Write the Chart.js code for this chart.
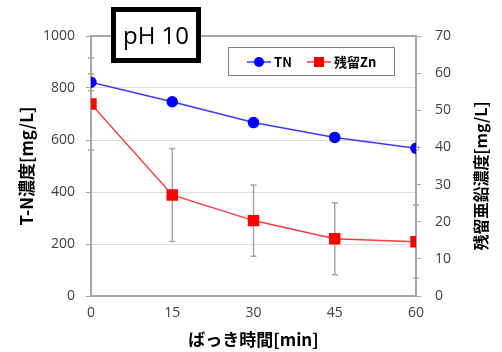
<!DOCTYPE html>
<html>
<head>
<meta charset="utf-8">
<script src="https://cdn.jsdelivr.net/npm/chart.js@4.4.1/dist/chart.umd.min.js"></script>
<style>
  body { margin: 0; background: #fff; }
  #chart { display: block; }
</style>
</head>
<body>
<canvas id="chart" width="502" height="352"></canvas>
<script>
const times = [0, 15, 30, 45, 60];
const tn = [822, 747, 667, 610, 568];
const tnErr = [33, 6, 15, 8, 5];
const zn = [51.7, 27.2, 20.3, 15.4, 14.6];
const znErr = [12.4, 12.5, 9.6, 9.7, 9.8];
const leftTicks = [0, 200, 400, 600, 800, 1000];
const rightTicks = [0, 10, 20, 30, 40, 50, 60, 70];
const xTicks = [0, 15, 30, 45, 60];

const tickFont = { family: "'Open Sans', 'Noto Sans', sans-serif", size: 14 };
const jpFont = { family: "'Noto Sans CJK JP', sans-serif", size: 17, weight: 'bold' };
const frameColor = '#a6a6a6';

const errorBars = {
  id: 'errorBars',
  beforeDatasetsDraw(chart) {
    const ctx = chart.ctx;
    const x = chart.scales.x;
    ctx.save();
    ctx.strokeStyle = '#a6a6a6';
    ctx.lineWidth = 1.5;
    chart.data.datasets.forEach(ds => {
      const y = chart.scales[ds.yAxisID];
      ds.errors.forEach((e, i) => {
        const px = x.getPixelForValue(times[i]);
        const top = y.getPixelForValue(ds.values[i] + e);
        const bot = y.getPixelForValue(ds.values[i] - e);
        ctx.beginPath();
        ctx.moveTo(px, top); ctx.lineTo(px, bot);
        ctx.moveTo(px - 3, top); ctx.lineTo(px + 3, top);
        ctx.moveTo(px - 3, bot); ctx.lineTo(px + 3, bot);
        ctx.stroke();
      });
    });
    ctx.restore();
  }
};

const frameAndLabels = {
  id: 'frameAndLabels',
  beforeDraw(chart) {
    const ctx = chart.ctx;
    ctx.save();
    ctx.fillStyle = '#fff';
    ctx.fillRect(0, 0, chart.width, chart.height);
    ctx.restore();
  },
  afterDraw(chart) {
    const ctx = chart.ctx;
    const a = chart.chartArea;
    ctx.save();
    // top frame line
    ctx.strokeStyle = frameColor;
    ctx.lineWidth = 2;
    ctx.beginPath();
    ctx.moveTo(a.left, a.top); ctx.lineTo(a.right, a.top);
    ctx.stroke();

    // right axis title, reads bottom to top like the left one
    ctx.save();
    ctx.translate(481, 176);
    ctx.rotate(-Math.PI / 2);
    ctx.fillStyle = '#000';
    ctx.font = "bold 16px 'Noto Sans CJK JP', sans-serif";
    ctx.textAlign = 'center';
    ctx.textBaseline = 'middle';
    ctx.fillText('残留亜鉛濃度[mg/L]', 0, 0);
    ctx.restore();

    // legend box
    ctx.fillStyle = '#fff';
    ctx.fillRect(228, 47, 166, 28);
    ctx.strokeStyle = '#808080';
    ctx.lineWidth = 1;
    ctx.strokeRect(228.5, 47.5, 166, 28);
    const ly = 62;
    chart.data.datasets.forEach((ds, i) => {
      const x0 = i === 0 ? 247 : 307;
      ctx.strokeStyle = ds.borderColor;
      ctx.lineWidth = 1.5;
      ctx.beginPath();
      ctx.moveTo(x0, ly); ctx.lineTo(x0 + 24, ly);
      ctx.stroke();
      ctx.fillStyle = ds.pointBackgroundColor;
      if (ds.pointStyle === 'rect') {
        ctx.fillRect(x0 + 7, ly - 5, 10, 10);
      } else {
        ctx.beginPath();
        ctx.arc(x0 + 12, ly, 5, 0, Math.PI * 2);
        ctx.fill();
      }
      ctx.fillStyle = '#000';
      ctx.font = "bold 13px 'Noto Sans CJK JP', sans-serif";
      ctx.textBaseline = 'middle';
      ctx.textAlign = 'left';
      ctx.fillText(ds.label, x0 + 27, ly);
    });

    // pH box
    ctx.fillStyle = '#fff';
    ctx.fillRect(111, 7, 90, 56);
    ctx.strokeStyle = '#000';
    ctx.lineWidth = 5;
    ctx.strokeRect(113.5, 9.5, 85, 51);
    ctx.fillStyle = '#000';
    ctx.font = "24px 'Open Sans', 'Noto Sans', sans-serif";
    ctx.textAlign = 'center';
    ctx.textBaseline = 'middle';
    ctx.fillText('pH 10', 156, 37);
    ctx.restore();
  }
};

const chart = new Chart(document.getElementById('chart'), {
  type: 'line',
  data: {
    datasets: [
      {
        label: 'TN',
        yAxisID: 'y',
        values: tn,
        errors: tnErr,
        data: times.map((t, i) => ({ x: t, y: tn[i] })),
        borderColor: '#3a3aff',
        borderWidth: 1.5,
        pointBackgroundColor: '#0000ff',
        pointBorderColor: '#0000ff',
        pointRadius: 5,
        pointStyle: 'circle',
        tension: 0
      },
      {
        label: '残留Zn',
        yAxisID: 'y1',
        values: zn,
        errors: znErr,
        data: times.map((t, i) => ({ x: t, y: zn[i] })),
        borderColor: '#ff3a3a',
        borderWidth: 1.5,
        pointBackgroundColor: '#ff0000',
        pointBorderColor: '#ff0000',
        pointRadius: 7,
        pointStyle: 'rect',
        tension: 0
      }
    ]
  },
  options: {
    responsive: false,
    animation: false,
    devicePixelRatio: 1,
    layout: { padding: { top: 36, left: 0, right: 0, bottom: 0 } },
    plugins: {
      legend: { display: false },
      tooltip: { enabled: false }
    },
    scales: {
      x: {
        type: 'linear',
        min: 0,
        max: 60,
        afterBuildTicks: s => { s.ticks = xTicks.map(v => ({ value: v })); },
        afterFit: s => { s.height = 56; },
        grid: { display: false, drawTicks: false },
        border: { color: frameColor, width: 2 },
        ticks: { font: tickFont, color: '#404040', padding: 9, maxRotation: 0, callback: v => String(v) },
        title: { display: true, text: 'ばっき時間[min]', font: jpFont, color: '#000', padding: { top: 0, bottom: 2 } }
      },
      y: {
        position: 'left',
        min: 0,
        max: 1000,
        afterBuildTicks: s => { s.ticks = leftTicks.map(v => ({ value: v })); },
        afterFit: s => { s.width = 91; },
        grid: {
          color: c => (c.tick && (c.tick.value === 0 || c.tick.value === 1000)) ? 'rgba(0,0,0,0)' : '#dedede',
          tickColor: frameColor,
          tickLength: 5,
          lineWidth: 1
        },
        border: { color: frameColor, width: 2 },
        ticks: { font: tickFont, color: '#404040', padding: 11, callback: v => String(v) },
        title: { display: true, text: 'T-N濃度[mg/L]', font: jpFont, color: '#000', padding: { top: 16, bottom: 0 } }
      },
      y1: {
        position: 'right',
        min: 0,
        max: 70,
        afterBuildTicks: s => { s.ticks = rightTicks.map(v => ({ value: v })); },
        afterFit: s => { s.width = 86; },
        grid: { drawOnChartArea: false, tickColor: frameColor, tickLength: 5 },
        border: { color: frameColor, width: 2 },
        ticks: { font: tickFont, color: '#404040', padding: 14, callback: v => String(v) },
        title: { display: false }
      }
    }
  },
  plugins: [errorBars, frameAndLabels]
});
</script>
</body>
</html>
